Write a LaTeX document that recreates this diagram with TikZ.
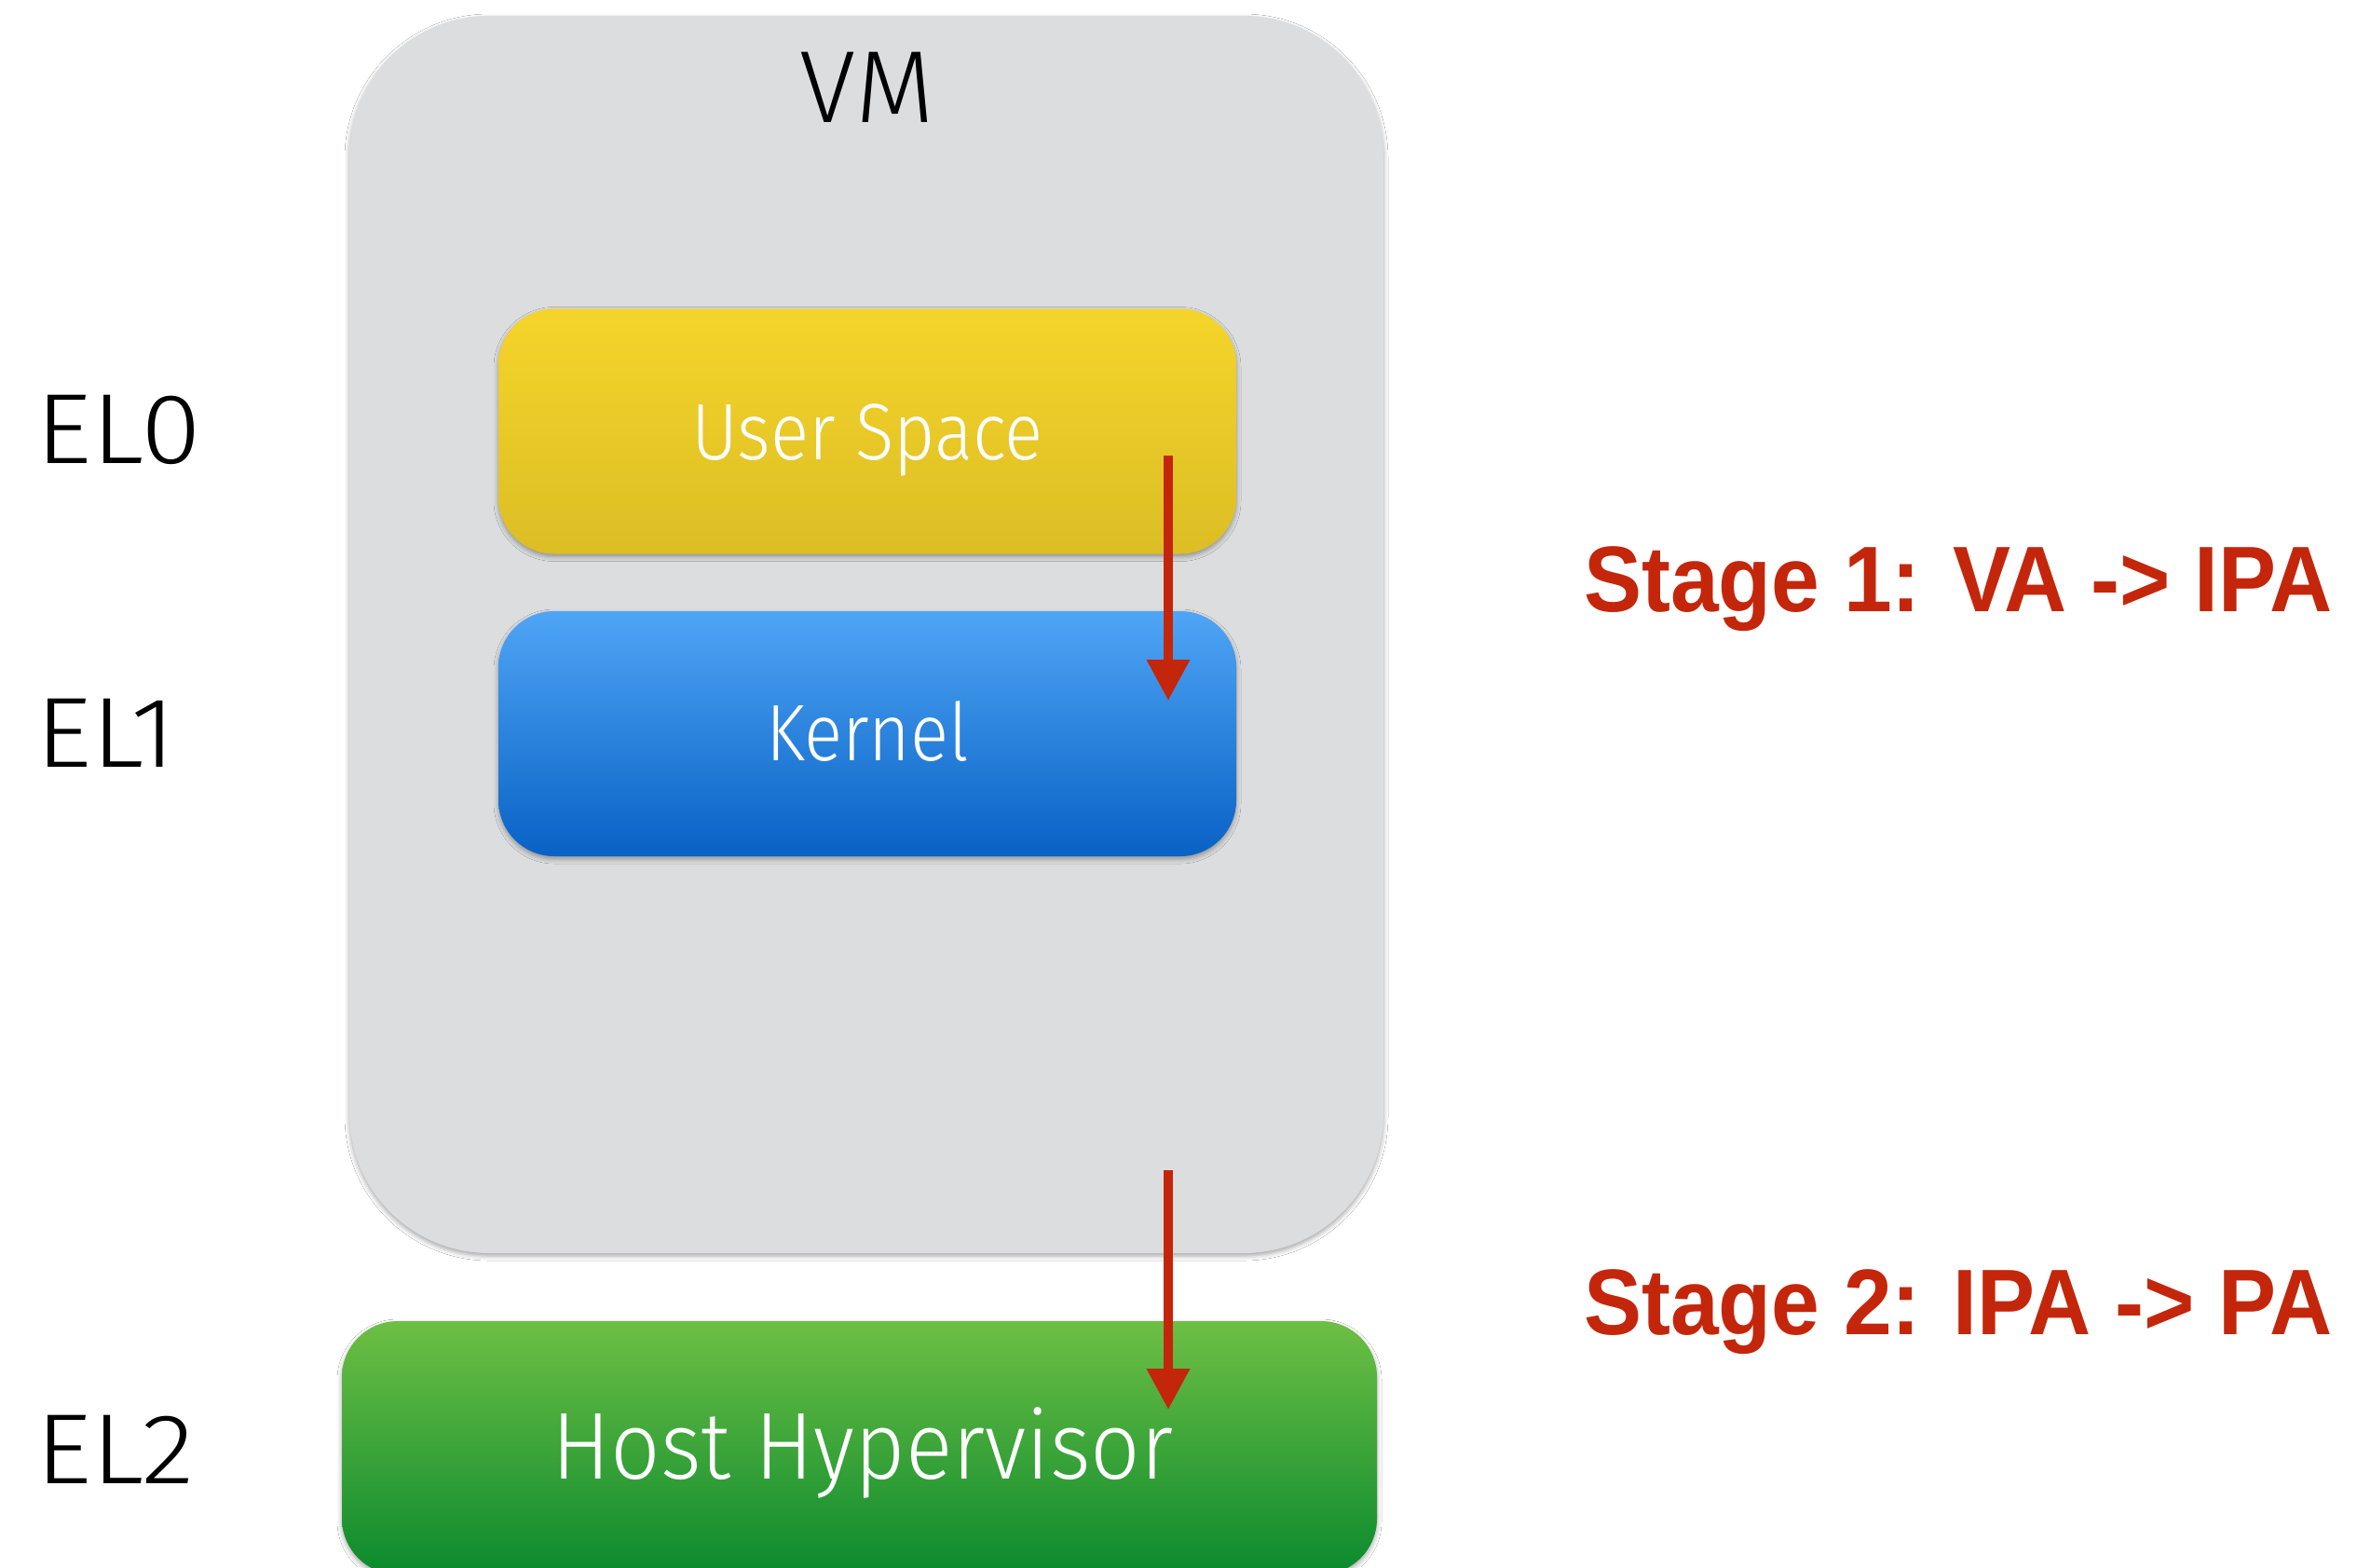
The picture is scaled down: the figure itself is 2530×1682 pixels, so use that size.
\documentclass[tikz,border=0pt]{standalone}
\usepackage{fontspec}
\setmainfont{Liberation Sans}
\newfontfamily\lightfont{Fira Sans Light}
\usetikzlibrary{arrows.meta,shadows.blur}
\definecolor{vmgray}{HTML}{DCDDDF}
\definecolor{stagered}{HTML}{C4260B}
\definecolor{ytop}{HTML}{F5D42A}
\definecolor{ybot}{HTML}{DCBE25}
\definecolor{btop}{HTML}{4FA5F5}
\definecolor{bbot}{HTML}{0862C5}
\definecolor{gtop}{HTML}{6DBF44}
\definecolor{gbot}{HTML}{0B8A2E}
\begin{document}
\begin{tikzpicture}[x=1pt,y=1pt,
  boxbase/.style={inner sep=0pt, draw=none,
    blur shadow={shadow xshift=0pt, shadow yshift=-3pt, shadow blur radius=5pt, shadow opacity=35}},
  vmbox/.style={boxbase, rounded corners=150pt, fill=vmgray, minimum width=1110pt, minimum height=1328pt},
  layerbox/.style={boxbase, rounded corners=60pt, minimum width=792pt, minimum height=263pt},
  hostbox/.style={boxbase, rounded corners=60pt, minimum width=1111pt, minimum height=272pt},
  boxtext/.style={inner sep=0pt, anchor=base, text=white, xscale=0.89, font=\lightfont\fontsize{86}{90}\selectfont},
  eltext/.style={inner sep=0pt, anchor=base west, text=black, xscale=1.1, font=\lightfont\fontsize{107}{110}\selectfont},
  stagetext/.style={inner sep=0pt, anchor=base west, text=stagered, xscale=0.93, font=\bfseries\fontsize{100}{104}\selectfont},
  redarrow/.style={draw=stagered, line width=10pt, -{Triangle[width=44pt,length=44pt]}}
]
\useasboundingbox (0,0) rectangle (2530,-1682);
\clip (0,0) rectangle (2530,-1682);
\fill[white] (0,0) rectangle (2530,-1682);

% boxes
\node[vmbox] (vm) at (930,-681) {};
\node[layerbox, top color=ytop, bottom color=ybot] (user) at (931,-463) {};
\node[layerbox, top color=btop, bottom color=bbot] (kernel) at (931,-787.5) {};
\node[hostbox, top color=gtop, bottom color=gbot] (host) at (922.5,-1554) {};

% texts
\node[inner sep=0pt, anchor=base, font=\lightfont\fontsize{110}{114}\selectfont] (vmlabel) at (931,-131) {VM};
\node[boxtext] (userlabel) at (931,-493) {User Space};
\node[boxtext] (kernellabel) at (931,-816) {Kernel};
\node[boxtext, xscale=1.034, font=\lightfont\fontsize{102}{106}\selectfont] (hostlabel) at (926,-1587) {Host Hypervisor};

\node[eltext] (el0) at (38,-497) {EL0};
\node[eltext] (el1) at (38,-823) {EL1};
\node[eltext] (el2) at (38,-1592) {EL2};

\node[stagetext] (stage1) at (1700,-656) {Stage 1: VA -> IPA};
\node[stagetext] (stage2) at (1700,-1432) {Stage 2: IPA -> PA};

% arrows
\coordinate (a1s) at (1254,-489);
\coordinate (a1e) at (1254,-752);
\coordinate (a2s) at (1254,-1256);
\coordinate (a2e) at (1254,-1513);
\draw[redarrow] (a1s) -- (a1e);
\draw[redarrow] (a2s) -- (a2e);
\end{tikzpicture}
\end{document}
